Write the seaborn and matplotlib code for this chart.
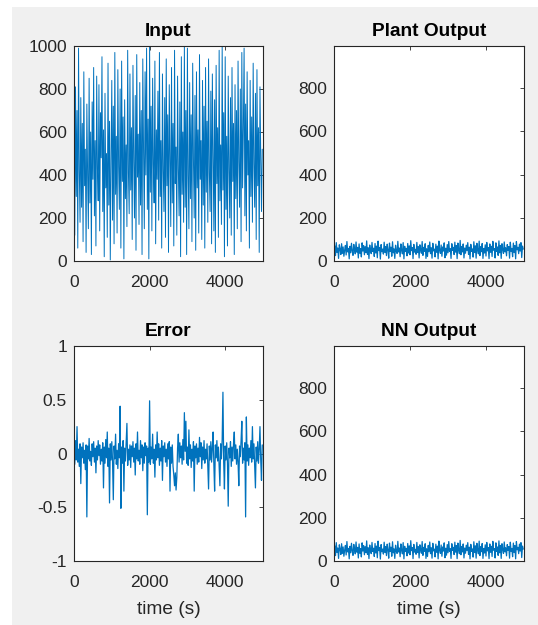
import numpy as np
import pandas as pd
import matplotlib
matplotlib.use("Agg")
import matplotlib.pyplot as plt
from matplotlib.patches import Rectangle
import seaborn as sns

# ---------------- data ----------------
step = 20  # seconds between stored samples

input_signal = [
    550, 120, 810, 300, 700, 60, 990, 420, 180, 760, 250, 640, 90, 880, 350, 520, 40, 730, 400, 150, 850, 270, 600, 30, 740,
    380, 900, 210, 560, 70, 860, 430, 280, 820, 140, 690, 480, 950, 230, 610, 20, 780, 340, 500, 110, 920, 260, 650, 5, 470,
    840, 190, 720, 80, 970, 310, 580, 130, 890, 440, 240, 800, 60, 930, 370, 670, 10, 750, 290, 540, 160, 980, 410, 220, 870,
    330, 620, 100, 910, 460, 200, 770, 50, 960, 390, 590, 170, 830, 260, 700, 30, 940, 510, 150, 880, 400, 990, 240, 660, 10,
    1000, 320, 720, 140, 850, 450, 270, 930, 80, 610, 380, 790, 190, 970, 300, 560, 60, 870, 420, 230, 760, 110, 940, 350, 680,
    40, 820, 490, 160, 900, 270, 640, 70, 980, 360, 530, 120, 860, 430, 210, 740, 20, 950, 310, 600, 180, 1000, 250, 700, 30,
    990, 400, 150, 830, 290, 680, 90, 920, 470, 200, 770, 50, 880, 340, 610, 130, 960, 380, 560, 100, 840, 260, 720, 60, 900,
    320, 650, 180, 940, 410, 230, 790, 80, 870, 500, 140, 750, 40, 910, 360, 620, 110, 980, 280, 540, 170, 1000, 330, 690, 20,
    950, 240, 580, 70, 860, 430, 200, 760, 120, 900, 370, 640, 30, 820, 290, 700, 150, 930, 460, 250, 800, 90, 970, 340, 610,
    990, 210, 730, 140, 880, 400, 560, 60, 840, 300, 670, 180, 920, 450, 250, 780, 100, 890, 350, 620, 40, 810, 490, 230, 520,
]

plant_output = [
    45, 70, 25, 85, 40, 60, 12, 75, 55, 30, 80, 35, 65, 22, 50, 72, 28, 90, 42, 58, 10, 68, 38, 82, 47,
    26, 77, 52, 33, 88, 41, 63, 14, 79, 36, 57, 19, 84, 46, 71, 29, 66, 39, 93, 31, 61, 11, 74, 49, 34,
    86, 44, 59, 21, 81, 37, 69, 15, 92, 48, 62, 9, 76, 43, 55, 32, 87, 40, 67, 25, 78, 51, 13, 83, 45,
    64, 22, 89, 38, 56, 12, 73, 46, 35, 91, 42, 60, 20, 79, 50, 33, 85, 10, 68, 44, 58, 24, 81, 37, 70,
    29, 94, 48, 62, 11, 77, 41, 54, 31, 86, 39, 66, 14, 75, 52, 36, 90, 26, 63, 45, 80, 12, 57, 21, 72,
    43, 88, 34, 61, 13, 82, 47, 55, 19, 78, 40, 69, 10, 92, 50, 35, 74, 22, 65, 46, 84, 15, 59, 27, 76,
    38, 90, 44, 57, 12, 80, 49, 63, 30, 87, 41, 71, 11, 83, 53, 34, 95, 29, 67, 42, 79, 14, 60, 36, 73,
    48, 85, 31, 64, 10, 77, 45, 56, 18, 89, 39, 70, 13, 82, 51, 33, 92, 25, 66, 43, 81, 12, 58, 37, 75,
    23, 86, 47, 62, 11, 79, 40, 68, 21, 91, 50, 57, 14, 84, 44, 65, 26, 93, 38, 72, 12, 80, 53, 35, 88,
    42, 61, 24, 76, 49, 67, 13, 87, 45, 58, 20, 83, 39, 71, 10, 90, 52, 63, 34, 78, 46, 85, 16, 69, 55,
]

nn_output = list(plant_output)

error_signal = [
    0.05, -0.10, 0.12, -0.06, 0.25, -0.08, 0.04, -0.12, 0.09, -0.28, 0.06, -0.04, 0.10, -0.09, 0.03, -0.15, 0.08, -0.59, 0.07, -0.05, 0.14, -0.07, 0.02, -0.11, 0.09,
    -0.03, 0.11, -0.08, 0.05, -0.18, 0.07, -0.06, 0.12, -0.02, 0.08, -0.10, 0.04, -0.07, 0.10, -0.32, 0.06, -0.09, 0.13, -0.04, 0.20, -0.12, 0.05, -0.46, 0.09, -0.06,
    0.11, -0.08, -0.43, 0.07, -0.05, 0.18, -0.10, 0.03, -0.14, 0.09, -0.04, 0.44, -0.51, 0.06, -0.09, 0.12, -0.35, 0.05, -0.07, 0.10, 0.28, -0.11, 0.04, -0.06, 0.08,
    -0.13, 0.07, -0.03, 0.11, -0.08, 0.05, -0.20, 0.09, -0.05, 0.20, -0.07, 0.03, -0.10, 0.12, -0.04, 0.08, -0.16, 0.06, -0.09, 0.10, -0.02, 0.07, -0.57, 0.05, -0.08,
    0.49, -0.10, 0.06, -0.05, 0.18, -0.09, 0.04, -0.22, 0.08, -0.06, 0.20, -0.04, 0.09, -0.11, 0.05, -0.07, 0.12, -0.25, 0.07, -0.03, 0.10, -0.08, 0.04, -0.12, 0.09,
    -0.05, 0.11, -0.35, 0.06, -0.09, 0.08, -0.12, -0.20, -0.30, -0.18, -0.34, -0.22, 0.05, 0.18, -0.08, 0.10, -0.04, 0.07, -0.10, 0.13, -0.06, 0.38, 0.02, 0.30, -0.09,
    0.06, -0.11, 0.22, -0.05, 0.08, -0.13, 0.04, -0.07, 0.11, -0.35, 0.07, -0.04, 0.09, -0.10, 0.05, -0.08, 0.15, -0.03, 0.10, -0.14, 0.06, -0.06, 0.12, -0.09, 0.04,
    -0.05, 0.09, -0.12, -0.33, 0.07, -0.06, 0.11, -0.08, 0.05, 0.20, -0.10, -0.35, 0.08, -0.04, 0.12, -0.07, 0.06, -0.11, -0.30, 0.09, -0.05, 0.13, 0.57, -0.08, -0.33,
    0.07, -0.06, 0.10, -0.09, -0.49, 0.05, -0.04, 0.11, -0.12, 0.06, -0.07, 0.09, 0.20, -0.05, 0.08, -0.10, 0.04, -0.08, -0.30, 0.07, -0.03, 0.12, 0.30, -0.09, 0.05,
    -0.06, 0.10, -0.59, 0.34, -0.07, 0.08, -0.11, 0.05, -0.04, 0.12, -0.08, 0.25, -0.05, 0.09, -0.13, -0.32, 0.06, -0.07, 0.11, -0.09, 0.04, 0.25, -0.06, -0.25, 0.08,
]

titles = ["Input", "Plant Output", "Error", "NN Output"]
x_ticks = [0, 2000, 4000]
x_tick_labels = ["0", "2000", "4000"]
y_ticks_input = [0, 200, 400, 600, 800, 1000]
y_ticks_output = [0, 200, 400, 600, 800]
y_ticks_error = [-1, -0.5, 0, 0.5, 1]
y_tick_labels_error = ["-1", "-0.5", "0", "0.5", "1"]
xlabel = "time (s)"

# ---------------- style ----------------
sns.set_theme(style="white")
plt.rcParams["font.family"] = ["Liberation Sans", "DejaVu Sans"]

LINE = "#0072BD"
TXT = "#262626"
BG = "#F0F0F0"
FS = 12.5
FS_LABEL = 13.8

fig = plt.figure(figsize=(5.38, 6.25), dpi=100, facecolor="white")
fig.patches.append(Rectangle((12 / 538, 0), 1, 1 - 7 / 625, transform=fig.transFigure,
                             facecolor=BG, edgecolor="none", zorder=-10))

W, H = 538, 625


def axes_at(l, t, r, b):
    return fig.add_axes([l / W, 1 - b / H, (r - l) / W, (b - t) / H])


ax_in = axes_at(74, 46, 263, 261)
ax_pl = axes_at(334, 46, 524, 261)
ax_er = axes_at(74, 346, 263, 561)
ax_nn = axes_at(334, 346, 524, 561)

series = [input_signal, plant_output, error_signal, nn_output]
axes = [ax_in, ax_pl, ax_er, ax_nn]
widths = [0.7, 0.9, 0.9, 0.9]

for ax, ys, title, lw in zip(axes, series, titles, widths):
    df = pd.DataFrame({"t": np.arange(len(ys)) * step, "v": ys})
    sns.lineplot(data=df, x="t", y="v", ax=ax, color=LINE, linewidth=lw,
                 estimator=None, sort=False)
    ax.set_facecolor("white")
    ax.set_xlim(0, 5000)
    ax.set_xticks(x_ticks)
    ax.set_xticklabels(x_tick_labels)
    ax.set_title(title, fontsize=FS_LABEL, fontweight="bold", color="black", pad=7)
    ax.set_xlabel("")
    ax.set_ylabel("")
    for s in ax.spines.values():
        s.set_visible(True)
        s.set_color(TXT)
        s.set_linewidth(0.8)
    ax.tick_params(direction="in", length=3, width=0.6, colors=TXT, labelsize=FS,
                   top=True, right=True, labelcolor=TXT)
    ax.tick_params(axis="x", pad=10)
    ax.tick_params(axis="y", pad=5)

ax_in.set_ylim(0, 1000)
ax_in.set_yticks(y_ticks_input)
ax_pl.set_ylim(0, 995)
ax_pl.set_yticks(y_ticks_output)
ax_nn.set_ylim(0, 995)
ax_nn.set_yticks(y_ticks_output)
ax_er.set_ylim(-1, 1)
ax_er.set_yticks(y_ticks_error)
ax_er.set_yticklabels(y_tick_labels_error)

ax_er.set_xlabel(xlabel, fontsize=FS_LABEL, color=TXT, labelpad=8)
ax_nn.set_xlabel(xlabel, fontsize=FS_LABEL, color=TXT, labelpad=8)

fig.savefig("out.png", dpi=100, facecolor=fig.get_facecolor())
